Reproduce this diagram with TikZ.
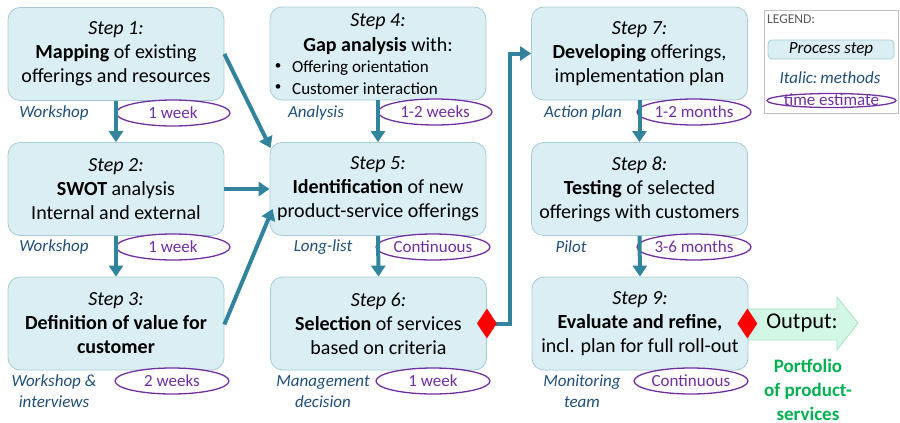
\documentclass[tikz,border=0pt]{standalone}
\usepackage{fontspec}
\setmainfont{Carlito}
\usetikzlibrary{arrows.meta,shapes.geometric,calc}
\definecolor{boxfill}{HTML}{DAEEF3}
\definecolor{boxline}{HTML}{A5CCD6}
\definecolor{flowteal}{HTML}{31849B}
\definecolor{timepurple}{HTML}{7030A0}
\definecolor{methodblue}{HTML}{1F4E79}
\definecolor{outfill}{HTML}{D2F7E4}
\definecolor{outline}{HTML}{A8E0C3}
\definecolor{outgreen}{HTML}{00B050}
\definecolor{legline}{HTML}{BFBFBF}
\definecolor{leggray}{HTML}{595959}
\begin{document}
\begin{tikzpicture}[x=1pt,y=-1pt,
  stepbox/.style={draw=boxline, fill=boxfill, rounded corners=12pt, minimum width=216pt, minimum height=93pt, align=center, font=\fontsize{20}{24}\selectfont, inner sep=2pt, line width=0.8pt},
  timeell/.style={ellipse, draw=timepurple, line width=1.3pt, fill=white, minimum width=114pt, minimum height=26pt, inner sep=0pt, text=timepurple, font=\fontsize{17}{20}\selectfont},
  method/.style={text=methodblue, font=\fontsize{17}{21}\selectfont\itshape, align=center, inner sep=0pt},
  flow/.style={draw=flowteal, line width=4pt, -{Triangle[width=14pt,length=11pt]}},
  redmark/.style={diamond, fill=red, draw=none, minimum width=20pt, minimum height=30pt, inner sep=0pt},
  smalltext/.style={font=\fontsize{17}{21}\selectfont, inner sep=0pt}
]
\useasboundingbox (0,0) rectangle (900,423);

% output arrow (behind step 9)
\draw[fill=outfill, draw=outline, line width=0.8pt]
  (740,309) -- (837,309) -- (837,297) -- (858,323) -- (837,350) -- (837,340) -- (740,340) -- cycle;
\node[font=\fontsize{22.5}{26}\selectfont, inner sep=0pt] (out) at (802,323) {Output:};
\node[font=\fontsize{19}{24}\selectfont\bfseries, text=outgreen, align=center, inner sep=0pt] (port) at (808,390) {Portfolio\\of product-\\services};

% step boxes
\node[stepbox] (b1) at (116,54) {\textit{Step 1:}\\\textbf{Mapping} of existing\\offerings and resources};
\node[stepbox] (b2) at (116,189) {\textit{Step 2:}\\\textbf{SWOT} analysis\\Internal and external};
\node[stepbox] (b3) at (116,323.5) {\textit{Step 3:}\\\textbf{Definition of value for}\\\textbf{customer}};
\node[stepbox] (b4) at (378,53.5) {};
\node[font=\fontsize{20}{24}\selectfont, inner sep=0pt] (b4a) at (378,22) {\textit{Step 4:}};
\node[font=\fontsize{20}{24}\selectfont, inner sep=0pt] (b4b) at (378,46) {\textbf{Gap analysis} with:};
\node[font=\fontsize{13}{15}\selectfont, inner sep=0pt] (b4c) at (278,67) {•};
\node[smalltext, anchor=west] (b4d) at (292,68) {Offering orientation};
\node[font=\fontsize{13}{15}\selectfont, inner sep=0pt] (b4e) at (278,88) {•};
\node[smalltext, anchor=west] (b4f) at (292,89) {Customer interaction};
\node[stepbox] (b5) at (378,189) {\textit{Step 5:}\\\textbf{Identification} of new\\product-service offerings};
\node[stepbox] (b6) at (378.5,323.5) {\textit{Step 6:}\\\textbf{Selection} of services\\based on criteria};
\node[stepbox] (b7) at (639.5,53.5) {\textit{Step 7:}\\\textbf{Developing} offerings,\\implementation plan};
\node[stepbox] (b8) at (639.5,189) {\textit{Step 8:}\\\textbf{Testing} of selected\\offerings with customers};
\node[stepbox] (b9) at (640,323.5) {\textit{Step 9:}\\\textbf{Evaluate and refine,}\\incl. plan for full roll-out};

% time estimates
\node[timeell] (t1) at (173,113) {1 week};
\node[timeell] (t2) at (173,247) {1 week};
\node[timeell] (t3) at (172,381) {2 weeks};
\node[timeell] (t4) at (435,112) {1-2 weeks};
\node[timeell] (t5) at (433,247) {Continuous};
\node[timeell] (t6) at (433,381) {1 week};
\node[timeell] (t7) at (694,112) {1-2 months};
\node[timeell] (t8) at (694,247) {3-6 months};
\node[timeell] (t9) at (691,381) {Continuous};

% methods
\node[method] (m1) at (54,113) {Workshop};
\node[method] (m2) at (54,247) {Workshop};
\node[method] (m3) at (54,391.5) {Workshop \&\\interviews};
\node[method] (m4) at (316,113) {Analysis};
\node[method] (m5) at (323,247) {Long-list};
\node[method] (m6) at (323,391.5) {Management\\decision};
\node[method] (m7) at (583,113) {Action plan};
\node[method] (m8) at (571,247) {Pilot};
\node[method] (m9) at (582,391.5) {Monitoring\\team};

% connectors
\draw[flow] (b1.south) -- (b2.north);
\draw[flow] (b2.south) -- (b3.north);
\draw[flow] (b4.south) -- (b5.north);
\draw[flow] (b5.south) -- (b6.north);
\draw[flow] (b7.south) -- (b8.north);
\draw[flow] (b8.south) -- (b9.north);
\draw[flow] ([yshift=0pt]b1.east) -- ([xshift=1pt,yshift=-6pt]b5.north west);
\draw[flow] (b2.east) -- (b5.west);
\draw[flow] ([yshift=-1pt]b3.east) -- ([xshift=3pt,yshift=27pt]b5.south west);
\draw[flow, rounded corners=0pt] (b6.east) -- ++(23,0) |- (b7.west);

\node[redmark] (r6) at (b6.east) {};
\node[redmark] (r9) at ([xshift=-1pt]b9.east) {};

% legend
\draw[legline, line width=0.8pt] (764,10) rectangle (898,113);
\node[anchor=west, inner sep=0pt, text=leggray, font=\fontsize{13.5}{16}\selectfont] (lt) at (767,19) {LEGEND:};
\node[draw=boxline, fill=boxfill, rounded corners=4pt, minimum width=126pt, minimum height=19pt, inner sep=0pt, font=\fontsize{17}{20}\selectfont\itshape, line width=0.8pt] (lp) at (831,49.5) {Process step};
\node[method] (lm) at (830,78) {Italic:\,methods};
\node[ellipse, draw=timepurple, line width=1.3pt, minimum width=129pt, minimum height=14pt, inner sep=0pt] (le) at (831.5,100.5) {};
\node[text=timepurple, font=\fontsize{17}{20}\selectfont, inner sep=0pt] (let) at (831.5,99.5) {time estimate};
\end{tikzpicture}
\end{document}
